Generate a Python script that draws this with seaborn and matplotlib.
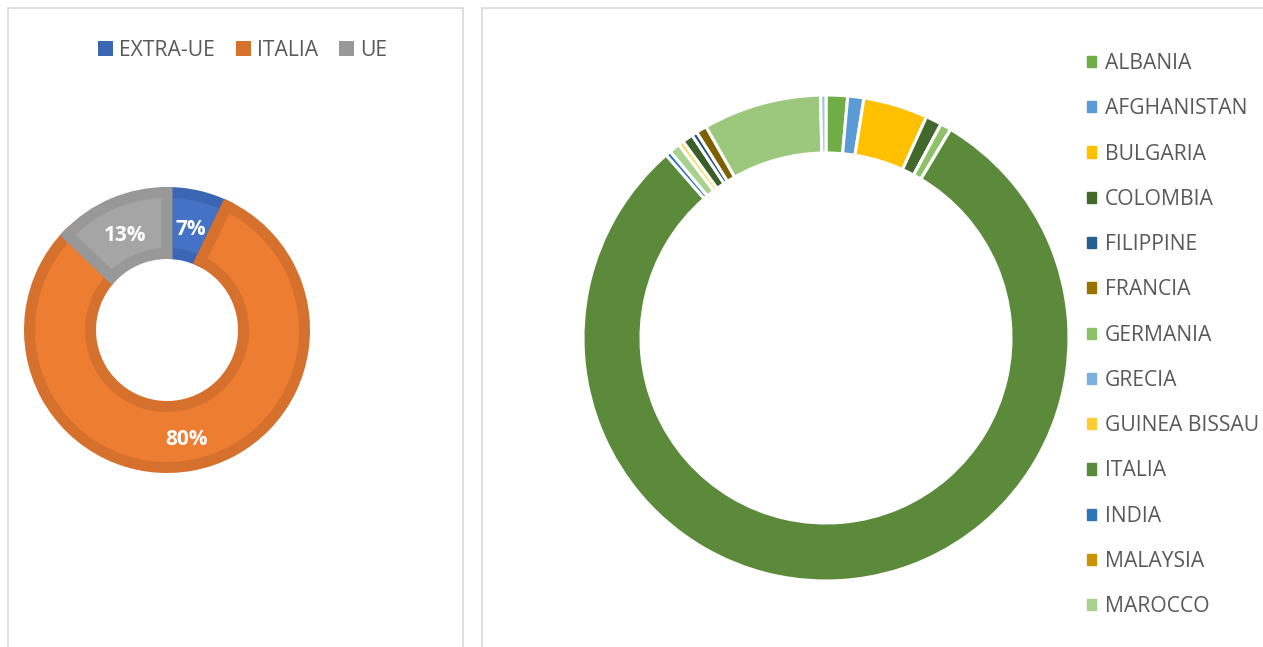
import matplotlib
matplotlib.use("Agg")
import matplotlib.pyplot as plt
from matplotlib.patches import Rectangle, Patch
import seaborn as sns

# ---------------- data ----------------
left_labels = ["EXTRA-UE", "ITALIA", "UE"]
left_values = [20, 224, 36]
left_fill = ["#4472C4", "#ED7D31", "#A5A5A5"]
left_edge = ["#3A66B4", "#D5702D", "#989898"]

countries = ["ALBANIA", "AFGHANISTAN", "BULGARIA", "COLOMBIA", "FILIPPINE",
             "FRANCIA", "GERMANIA", "GRECIA", "GUINEA BISSAU", "ITALIA",
             "INDIA", "MALAYSIA", "MAROCCO", "MOLDAVIA", "NIGERIA",
             "PAKISTAN", "PERÙ", "REP. DOMINICANA", "ROMANIA", "UCRAINA"]
country_values = [4, 3, 12, 3, 0,
                  0, 2, 0, 0, 224,
                  1, 0, 2, 0, 1,
                  2, 1, 2, 22, 1]
country_colors = ["#70AD47", "#5B9BD5", "#FFC000", "#43682B", "#255E91",
                  "#997300", "#8CC168", "#7CAFDD", "#FFCD33", "#5B8A3B",
                  "#2E75B6", "#C69500", "#A9D18E", "#9DC3E6", "#FFD966",
                  "#3B5D27", "#1F4E79", "#7F6000", "#9CC87D", "#9EC5E8"]
legend_count = 13  # entries visible in the (truncated) legend

# ---------------- style ----------------
sns.set_theme(style="white")
plt.rcParams["font.family"] = ["Open Sans", "DejaVu Sans"]
text_color = "#595959"
FS = 15.2

W, H = 1263, 647
fig = plt.figure(figsize=(W / 100, H / 100), dpi=100)
fig.patch.set_facecolor("white")

# panel borders
fig.patches.append(Rectangle((8 / W, -0.1), (463 - 8) / W, 1.1 - 8 / H,
                             transform=fig.transFigure, fill=False,
                             edgecolor="#D9D9D9", linewidth=1.2))
fig.patches.append(Rectangle((482 / W, -0.1), 1.0, 1.1 - 8 / H,
                             transform=fig.transFigure, fill=False,
                             edgecolor="#D9D9D9", linewidth=1.2))

# ---------------- left donut ----------------
cx, cy, half = 167, 330, 150
R_out, R_in, border = 143, 71, 11  # pixels
axL = fig.add_axes([(cx - half) / W, (H - cy - half) / H, 2 * half / W, 2 * half / H])
wedges, _, autotexts = axL.pie(
    left_values, colors=left_fill, startangle=90, counterclock=False,
    radius=(R_out - border / 2) / half, autopct="%1.0f%%",
    pctdistance=((R_out + R_in) / 2) / (R_out - border / 2),
    wedgeprops=dict(width=(R_out - R_in - border) / half,
                    linewidth=border * 0.72),
    textprops=dict(color="white", fontsize=15, fontweight="bold"))
for w, ec in zip(wedges, left_edge):
    w.set_edgecolor(ec)
for t in autotexts:
    t.set_y(t.get_position()[1] - 4 / half)
axL.set_xlim(-1, 1)
axL.set_ylim(-1, 1)
axL.set_aspect("equal")
axL.axis("off")

handlesL = [Patch(facecolor=e, edgecolor=e, linewidth=0) for e in left_edge]
fig.legend(handlesL, left_labels, loc="center left",
           bbox_to_anchor=(98 / W, 1 - 50 / H), ncol=3, frameon=False,
           fontsize=FS, labelcolor=text_color, handlelength=0.7,
           handleheight=0.7, handletextpad=0.3, columnspacing=1.0,
           borderaxespad=0, borderpad=0)

# ---------------- right donut ----------------
cx2, cy2, half2 = 826, 338, 250
axR = fig.add_axes([(cx2 - half2) / W, (H - cy2 - half2) / H, 2 * half2 / W, 2 * half2 / H])
wedges2, _ = axR.pie(
    country_values, colors=country_colors, startangle=90, counterclock=False,
    radius=243 / half2,
    wedgeprops=dict(width=(243 - 185) / half2, edgecolor="white", linewidth=2.2))
axR.set_xlim(-1, 1)
axR.set_ylim(-1, 1)
axR.set_aspect("equal")
axR.axis("off")

handlesR = [Patch(facecolor=c, edgecolor=c) for c in country_colors[:legend_count]]
fig.legend(handlesR, countries[:legend_count], loc="upper left",
           bbox_to_anchor=(1087 / W, 1 - 53 / H), ncol=1, frameon=False,
           fontsize=FS, labelcolor=text_color, handlelength=0.43,
           handleheight=0.43, handletextpad=0.43, labelspacing=1.15,
           borderaxespad=0, borderpad=0)

fig.savefig("out.png", dpi=100, facecolor="white")
